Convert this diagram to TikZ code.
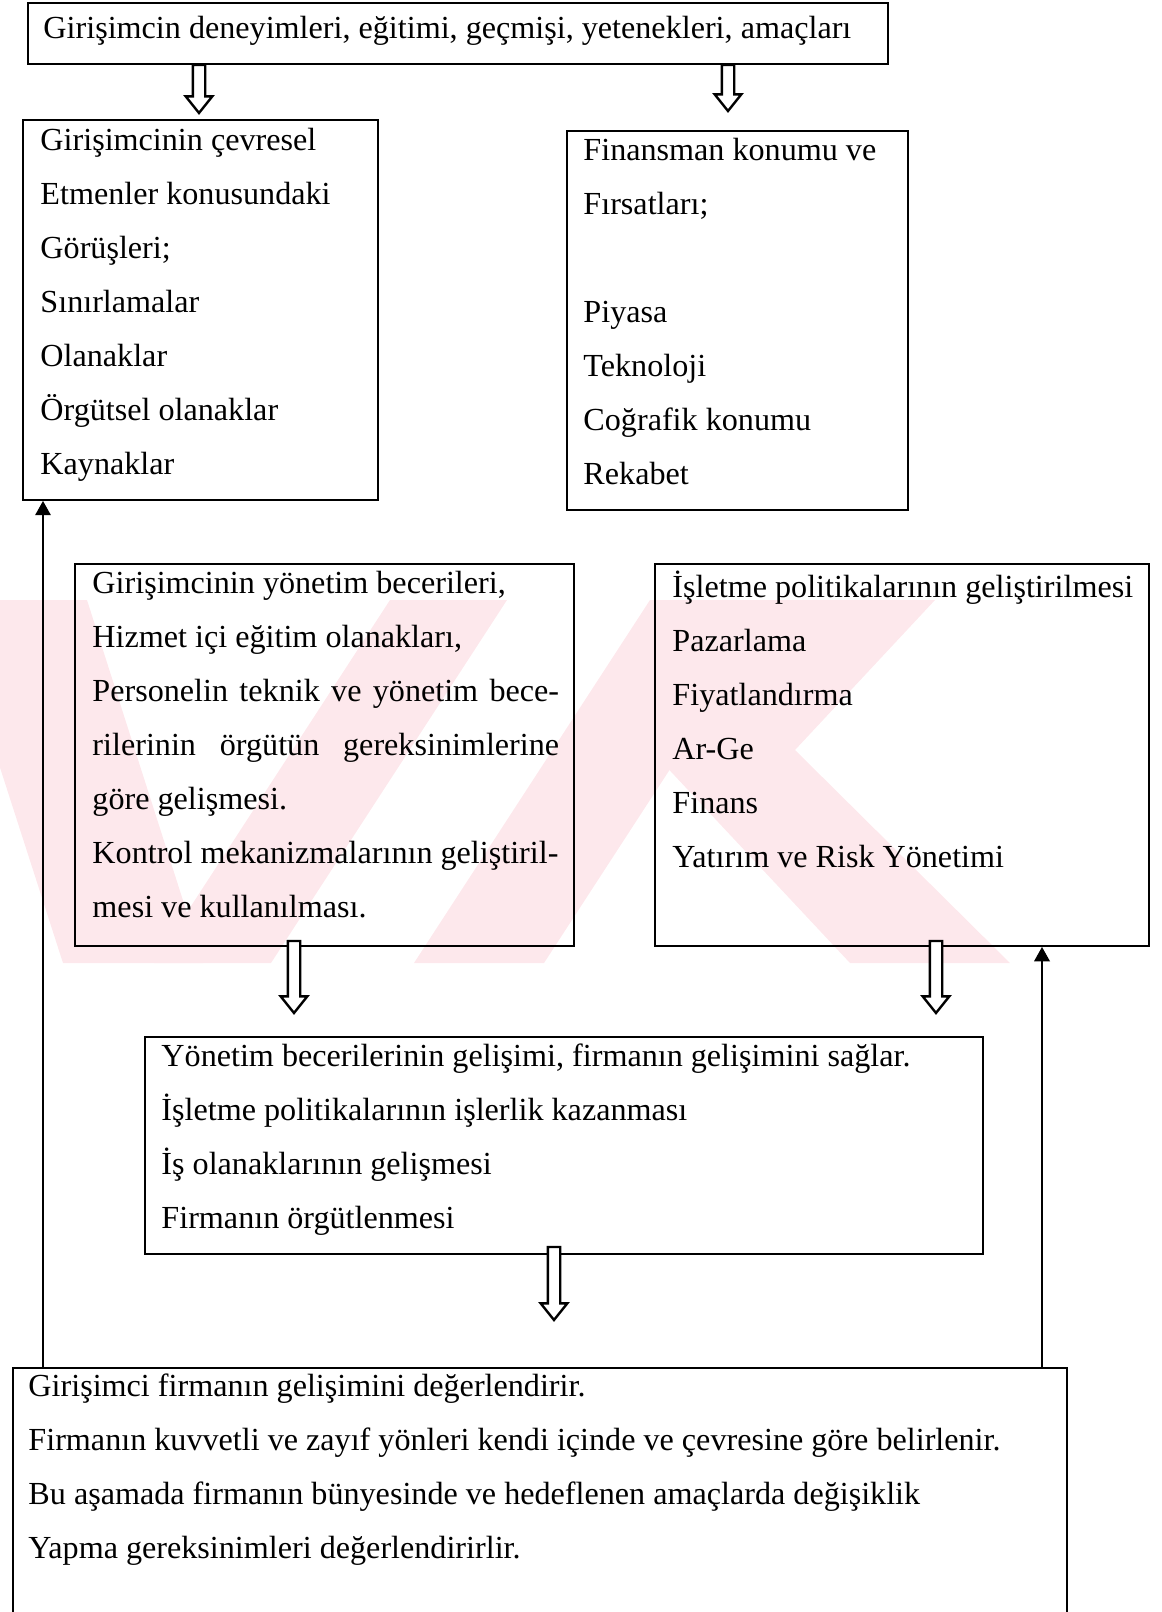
\documentclass[tikz,border=0pt]{standalone}
\usepackage{fontspec}
\setmainfont{Liberation Serif}
\usetikzlibrary{arrows.meta,positioning,calc,fit}

\definecolor{wmpink}{RGB}{253,232,236}

\begin{document}
\begin{tikzpicture}[
    x=0.42pt,y=-0.42pt,
    >={Triangle[length=6pt,width=6.5pt]},
    box/.style={draw=black,line width=0.8pt,inner sep=0pt},
    txt/.style={anchor=north west,inner sep=0pt,align=left,
      font=\fontsize{13.5}{22.68}\selectfont,
      execute at begin node=\rule{0pt}{12.5pt}},
    back/.style={->,line width=0.8pt,draw=black},
    hollow/.style={draw=black,fill=white,line width=1pt,
      to path={let \p1=(\tikztostart),\p2=(\tikztotarget) in
        (\x1-2.6pt,\y1) -- (\x1-2.6pt,\y2+7pt) -- (\x1-5.6pt,\y2+7pt)
        -- (\x1,\y2) -- (\x1+5.6pt,\y2+7pt) -- (\x1+2.6pt,\y2+7pt)
        -- (\x1+2.6pt,\y1) -- cycle}}
  ]
    \useasboundingbox (0,0) rectangle (1161,1612);

    % pale watermark band
    \begin{scope}
      \clip (0,600) rectangle (1161,963);
      \fill[wmpink] (-54,600) -- (87,600) -- (203,963) -- (63,963) -- cycle;
      \fill[wmpink] (390,600) -- (507,600) -- (271,963) -- (154,963) -- cycle;
      \fill[wmpink] (650,600) -- (780,600) -- (544,963) -- (414,963) -- cycle;
      \fill[wmpink] (780,600) -- (935,600) -- (795,750) -- (1010,963)
        -- (850,963) -- (660,760) -- cycle;
    \end{scope}

    % boxes
    \node[box,fit={(28,3) (888,64)}] (b1) {};
    \node[box,fit={(23,120) (378,500)}] (b2) {};
    \node[box,fit={(567,131) (908,510)}] (b3) {};
    \node[box,fit={(75,564) (574,946)}] (b4) {};
    \node[box,fit={(655,564) (1149,946)}] (b5) {};
    \node[box,fit={(145,1037) (983,1254)}] (b6) {};
    \node[box,fit={(13,1368) (1067,1700)}] (b7) {};

    % texts
    \node[txt] (t1) at (43,8) {Girişimcin deneyimleri, eğitimi, geçmişi, yetenekleri, amaçları};
    \node[txt] (t2) at (40,128) {Girişimcinin çevresel\\Etmenler konusundaki\\Görüşleri;\\
      Sınırlamalar\\Olanaklar\\Örgütsel olanaklar\\Kaynaklar};
    \node[txt] (t3) at (583,138) {Finansman konumu ve\\Fırsatları;\\\mbox{}\\
      Piyasa\\Teknoloji\\Coğrafik konumu\\Rekabet};
    \node[txt] (t4) at (92,571) {Girişimcinin yönetim becerileri,\\Hizmet içi eğitim olanakları,\\
      \makebox[196pt][s]{Personelin teknik ve yönetim bece-}\\
      \makebox[196pt][s]{rilerinin örgütün gereksinimlerine}\\
      göre gelişmesi.\\Kontrol mekanizmalarının geliştiril-\\mesi ve kullanılması.};
    \node[txt] (t5) at (672,570) {İşletme politikalarının geliştirilmesi\\Pazarlama\\
      Fiyatlandırma\\Ar-Ge\\Finans\\Yatırım ve Risk Yönetimi};
    \node[txt] (t6) at (161,1043) {Yönetim becerilerinin gelişimi, firmanın gelişimini sağlar.\\
      İşletme politikalarının işlerlik kazanması\\İş olanaklarının gelişmesi\\
      Firmanın örgütlenmesi};
    \node[txt] (t7) at (28,1373) {Girişimci firmanın gelişimini değerlendirir.\\
      Firmanın kuvvetli ve zayıf yönleri kendi içinde ve çevresine göre belirlenir.\\
      Bu aşamada firmanın bünyesinde ve hedeflenen amaçlarda değişiklik\\
      Yapma gereksinimleri değerlendirirlir.};

    % hollow arrows
    \coordinate (a1s) at (b1.south -| 199,0);
    \coordinate (a1e) at (199,113);
    \coordinate (a2s) at (b1.south -| 728,0);
    \coordinate (a2e) at (728,111);
    \coordinate (a3s) at ($(b4.south -| 294,0)+(0,-6)$);
    \coordinate (a3e) at (294,1013);
    \coordinate (a4s) at ($(b5.south -| 936,0)+(0,-6)$);
    \coordinate (a4e) at (936,1013);
    \coordinate (a5s) at ($(b6.south -| 554,0)+(0,-8)$);
    \coordinate (a5e) at (554,1320);
    \draw[hollow] (a1s) to (a1e);
    \draw[hollow] (a2s) to (a2e);
    \draw[hollow] (a3s) to (a3e);
    \draw[hollow] (a4s) to (a4e);
    \draw[hollow] (a5s) to (a5e);

    % feedback lines
    \draw[back] (b7.north -| 43,0) -- (b2.south -| 43,0);
    \draw[back] (b7.north -| 1042,0) -- (b5.south -| 1042,0);
  \end{tikzpicture}
\end{document}
